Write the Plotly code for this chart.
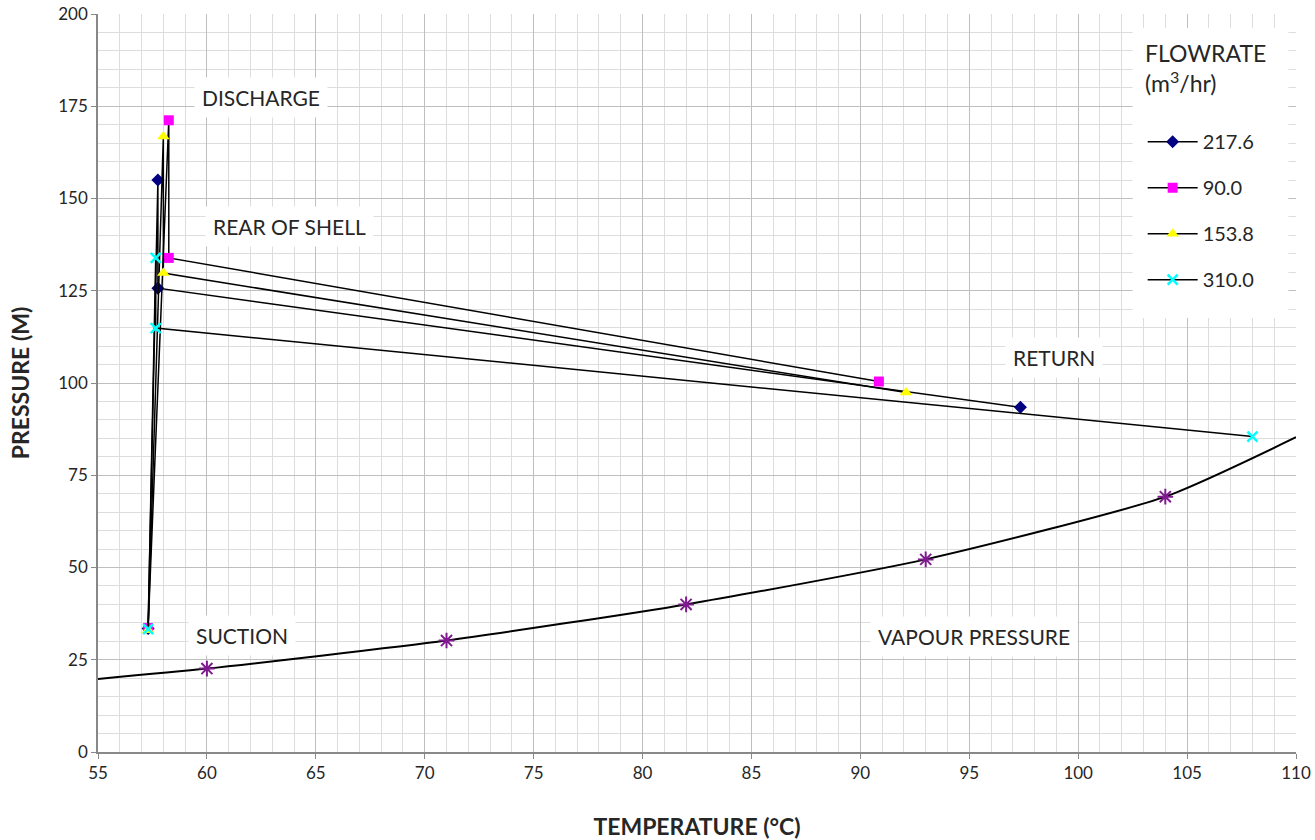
import plotly.graph_objects as go

# Flowrate series: points in order suction -> discharge -> rear of shell -> return
flow_names = ["217.6", "90.0", "153.8", "310.0"]
t_217 = [57.3, 57.75, 57.75, 97.35]
p_217 = [33.5, 155.0, 125.7, 93.4]
t_90 = [57.3, 58.25, 58.25, 90.85]
p_90 = [33.6, 171.2, 133.9, 100.4]
t_154 = [57.3, 58.0, 58.0, 92.1]
p_154 = [33.0, 166.8, 129.8, 97.4]
t_310 = [57.3, 57.65, 57.65, 108.0]
p_310 = [33.3, 133.9, 114.9, 85.5]

# Vapour pressure curve
vp_t = [55, 60, 71, 82, 93, 104, 110]
vp_p = [19.8, 22.6, 30.2, 40.0, 52.2, 69.2, 85.3]
vp_mark_t = [60, 71, 82, 93, 104]
vp_mark_p = [22.6, 30.2, 40.0, 52.2, 69.2]

FONT = "Lato, 'Liberation Sans', sans-serif"
TXT = "#262626"

series = [
    (flow_names[0], t_217, p_217, "diamond", "#000080", 10),
    (flow_names[1], t_90, p_90, "square", "#FF00FF", 10),
    (flow_names[2], t_154, p_154, "triangle-up", "#FFFF00", 11),
    (flow_names[3], t_310, p_310, "x-thin-open", "#00FFFF", 10),
]

fig = go.Figure()

fig.add_trace(go.Scatter(x=vp_t, y=vp_p, mode="lines", line=dict(color="black", width=2, shape="spline", smoothing=0.6),
                         showlegend=False, hoverinfo="skip"))
fig.add_trace(go.Scatter(x=vp_mark_t, y=vp_mark_p, mode="markers", showlegend=False,
                         marker=dict(symbol="asterisk-open", size=13, color="#7F1A8F",
                                     line=dict(color="#7F1A8F", width=2))))

for i, (name, xs, ys, sym, col, sz) in enumerate(series):
    if sym == "x-thin-open":
        mk = dict(symbol=sym, size=sz, line=dict(color=col, width=2.5), color=col)
    else:
        mk = dict(symbol=sym, size=sz, color=col, line=dict(width=0))
    fig.add_trace(go.Scatter(x=xs, y=ys, name=name, mode="lines+markers",
                             line=dict(color="black", width=1.5), marker=mk,
                             legendgroup=name))

labels = [
    ("DISCHARGE", 62.5, 177.3),
    ("REAR OF SHELL", 63.8, 142.3),
    ("RETURN", 98.9, 107.0),
    ("SUCTION", 61.6, 31.5),
    ("VAPOUR PRESSURE", 95.2, 31.3),
]
for txt, x, y in labels:
    fig.add_annotation(x=x, y=y, text=txt, showarrow=False, bgcolor="white", borderpad=7,
                       font=dict(family=FONT, size=21, color=TXT))

# white panel behind the legend
fig.add_shape(type="rect", xref="x", yref="y", x0=102.5, x1=109.65, y0=117.6, y1=196.2,
              fillcolor="white", line=dict(width=0), layer="between")

fig.update_layout(
    width=1315, height=840,
    margin=dict(l=98, r=19, t=14, b=88),
    paper_bgcolor="white", plot_bgcolor="white",
    font=dict(family=FONT, color=TXT),
    legend=dict(
        title=dict(text="FLOWRATE<br>(m<sup>3</sup>/hr)<br> ", font=dict(family=FONT, size=23, color=TXT),
                   side="top center"),
        x=0.872, y=0.975, xanchor="left", yanchor="top",
        bgcolor="rgba(0,0,0,0)", font=dict(family=FONT, size=20, color=TXT),
        tracegroupgap=17, itemwidth=50, borderwidth=0,
    ),
    xaxis=dict(range=[55, 110], dtick=5, tick0=55, showgrid=True, gridcolor="#BFBFBF", gridwidth=1,
               showline=True, linecolor="#888888", linewidth=1.5, ticks="outside", ticklen=5, tickcolor="#888888",
               tickfont=dict(family=FONT, size=17, color=TXT), zeroline=False, automargin=False,
               minor=dict(dtick=1, showgrid=True, gridcolor="#DDDDDD", gridwidth=1),
               title=dict(text="<b>TEMPERATURE (°C)</b>", font=dict(family=FONT, size=23, color=TXT), standoff=40)),
    yaxis=dict(range=[0, 200], dtick=25, showgrid=True, gridcolor="#BFBFBF", gridwidth=1,
               showline=True, linecolor="#888888", linewidth=1.5, ticks="outside", ticklen=5, tickcolor="#888888",
               tickfont=dict(family=FONT, size=17, color=TXT), zeroline=False, automargin=False,
               minor=dict(dtick=5, showgrid=True, gridcolor="#DDDDDD", gridwidth=1),
               title=dict(text="<b>PRESSURE (M)</b>", font=dict(family=FONT, size=23, color=TXT), standoff=22)),
)

fig.write_html("out.html", config={"displayModeBar": False},
               post_script="document.body.style.margin='0';document.body.style.overflow='hidden';")
